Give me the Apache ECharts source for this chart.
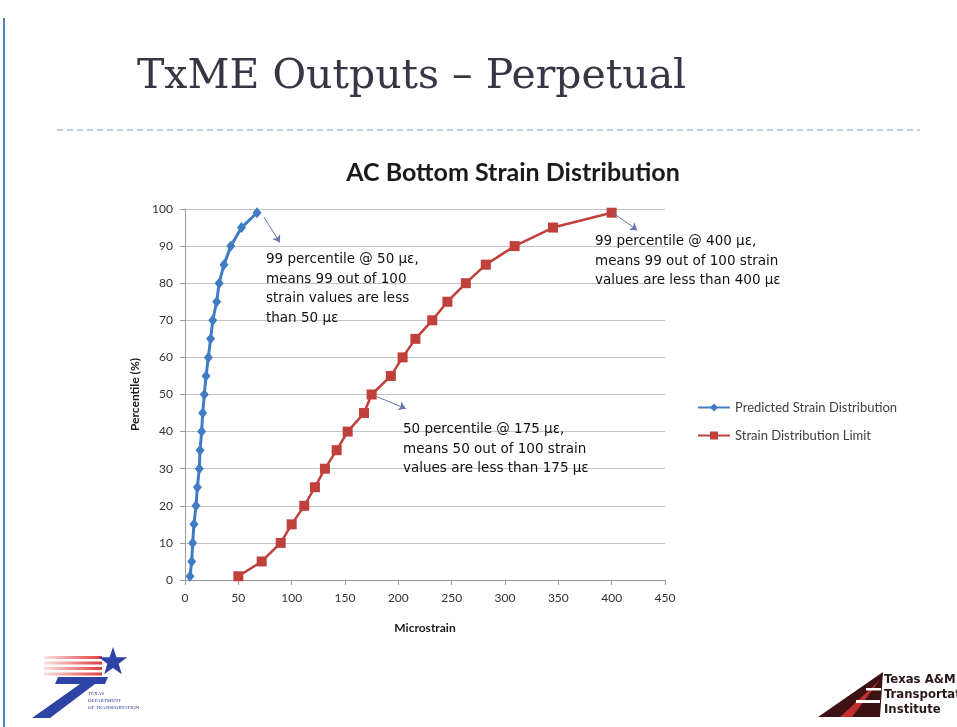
<!DOCTYPE html>
<html>
<head>
<meta charset="utf-8">
<script src="https://cdn.jsdelivr.net/npm/echarts@6/dist/echarts.min.js"></script>
<style>
  html, body { margin: 0; padding: 0; background: #ffffff; }
  #chart { width: 957px; height: 727px; }
</style>
</head>
<body>
<div id="chart"></div>
<script>
// Percentile levels shared by both distributions
const percentiles = [1, 5, 10, 15, 20, 25, 30, 35, 40, 45, 50, 55, 60, 65, 70, 75, 80, 85, 90, 95, 99];
// Microstrain at each percentile
const predictedStrain = [4.7, 6.3, 7.2, 8.4, 10.3, 11.6, 13.4, 14.1, 15.6, 16.6, 18.1, 19.7, 21.9, 24, 26, 29.7, 32, 36.5, 43, 53, 67.5];
const limitStrain = [50, 71.9, 89.7, 100, 111.8, 121.8, 131.2, 142.2, 152.5, 167.8, 175, 193, 204, 216, 231.8, 246, 263.3, 282, 309, 345, 400];

const seriesNames = ['Predicted Strain Distribution', 'Strain Distribution Limit'];
const xTicks = { min: 0, max: 450, interval: 50 };
const yTicks = { min: 0, max: 100, interval: 10 };

// Callout notes: [from point, arrow tip] in data units, plus text lines
const notes = [
  { from: [74, 97.8], to: [89, 91], lines: ['99 percentile @ 50 με,', 'means 99 out of 100', 'strain values are less', 'than 50 με'] },
  { from: [180, 49.4], to: [207, 46.2], lines: ['50 percentile @ 175 με,', 'means 50 out of 100 strain', 'values are less than 175 με'] },
  { from: [402, 98.8], to: [424, 94.3], lines: ['99 percentile @ 400 με,', 'means 99 out of 100 strain', 'values are less than 400 με'] }
];

const BLUE = '#3f7cc4';
const RED = '#c0403c';
const NOTE_COLOR = '#6676b0';

const chart = echarts.init(document.getElementById('chart'), null, { renderer: 'canvas' });

function pairs(xs) { return xs.map((x, i) => [x, percentiles[i]]); }

function arrowLine(n) {
  return [{ coord: n.from }, { coord: n.to }];
}

// Star points for the department logo
function starPoints(cx, cy, R, r) {
  const pts = [];
  for (let i = 0; i < 10; i++) {
    const a = -Math.PI / 2 + i * Math.PI / 5;
    const rad = i % 2 === 0 ? R : r;
    pts.push([cx + rad * Math.cos(a), cy + rad * Math.sin(a)]);
  }
  return pts;
}

const stripes = [656, 661.5, 667, 672.5].map(y => ({
  type: 'rect',
  shape: { x: 44, y: y, width: 58, height: 3 },
  style: {
    fill: new echarts.graphic.LinearGradient(0, 0, 1, 0, [
      { offset: 0, color: 'rgba(230,60,60,0.15)' },
      { offset: 1, color: '#e23a3a' }
    ])
  }
}));

const noteTexts = [
  { x: 266, y: 250, lines: notes[0].lines },
  { x: 403, y: 420, lines: notes[1].lines },
  { x: 595, y: 232, lines: notes[2].lines }
].map(t => ({
  type: 'text',
  left: t.x, top: t.y,
  style: {
    text: t.lines.join('\n'),
    font: '13.5px "DejaVu Sans"',
    lineHeight: 19.5,
    fill: '#111111'
  },
  z: 20
}));

const option = {
  animation: false,
  backgroundColor: '#ffffff',
  title: {
    text: 'AC Bottom Strain Distribution',
    left: 513, top: 160, padding: 0,
    textAlign: 'center',
    textStyle: { fontFamily: 'Lato', fontWeight: 'bold', fontSize: 25, color: '#1a1a1a' }
  },
  legend: {
    orient: 'vertical',
    left: 697, top: 401, padding: 0,
    itemWidth: 32, itemHeight: 10, itemGap: 15,
    textStyle: { fontFamily: 'Lato', fontSize: 13, color: '#404040' },
    data: seriesNames
  },
  grid: { left: 185, right: 292, top: 209, bottom: 147, containLabel: false },
  xAxis: {
    type: 'value',
    min: xTicks.min, max: xTicks.max, interval: xTicks.interval,
    name: 'Microstrain',
    nameLocation: 'middle', nameGap: 42,
    nameTextStyle: { fontFamily: 'Lato', fontWeight: 'bold', fontSize: 12, color: '#1a1a1a' },
    axisLine: { show: true, lineStyle: { color: '#9a9a9a', width: 1 } },
    axisTick: { show: true, length: 5, lineStyle: { color: '#9a9a9a' } },
    axisLabel: { fontFamily: 'Lato', fontSize: 12, color: '#333333', margin: 12 },
    splitLine: { show: false }
  },
  yAxis: {
    type: 'value',
    min: yTicks.min, max: yTicks.max, interval: yTicks.interval,
    name: 'Percentile (%)',
    nameLocation: 'middle', nameGap: 42,
    nameTextStyle: { fontFamily: 'Lato', fontWeight: 'bold', fontSize: 12, color: '#1a1a1a' },
    axisLine: { show: true, lineStyle: { color: '#9a9a9a', width: 1 } },
    axisTick: { show: true, length: 5, lineStyle: { color: '#9a9a9a' } },
    axisLabel: { fontFamily: 'Lato', fontSize: 12, color: '#333333', margin: 12 },
    splitLine: { show: true, lineStyle: { color: '#c4c4c4', width: 1 } }
  },
  series: [
    {
      name: seriesNames[0],
      type: 'line',
      data: pairs(predictedStrain),
      symbol: 'diamond', symbolSize: [9, 11],
      lineStyle: { color: BLUE, width: 3 },
      itemStyle: { color: BLUE },
      z: 5,
      markLine: {
        silent: true,
        symbol: ['none', 'arrow'], symbolSize: [7, 7],
        lineStyle: { color: NOTE_COLOR, width: 1, type: 'solid' },
        label: { show: false },
        data: [arrowLine(notes[0])]
      }
    },
    {
      name: seriesNames[1],
      type: 'line',
      data: pairs(limitStrain),
      symbol: 'rect', symbolSize: 10,
      lineStyle: { color: RED, width: 2.5 },
      itemStyle: { color: RED },
      z: 4,
      markLine: {
        silent: true,
        symbol: ['none', 'arrow'], symbolSize: [7, 7],
        lineStyle: { color: NOTE_COLOR, width: 1, type: 'solid' },
        label: { show: false },
        data: [arrowLine(notes[1]), arrowLine(notes[2])]
      }
    }
  ],
  graphic: [
    // slide frame accent
    { type: 'line', shape: { x1: 4, y1: 18, x2: 4, y2: 727 }, style: { stroke: '#4f81bd', lineWidth: 2 } },
    // slide heading
    {
      type: 'text', left: 137, top: 57,
      style: { text: 'TxME Outputs – Perpetual', font: '41px "DejaVu Serif"', fill: '#363645' }
    },
    { type: 'line', shape: { x1: 57, y1: 130, x2: 920, y2: 130 }, style: { stroke: '#a9bfd9', lineWidth: 1.5, lineDash: [6, 4] } },
    // department logo
    ...stripes,
    { type: 'polygon', shape: { points: starPoints(113, 662, 15, 6) }, style: { fill: '#2d44a6' } },
    { type: 'polygon', shape: { points: [[58, 677], [108, 677], [105, 684], [55, 684]] }, style: { fill: '#2d44a6' } },
    { type: 'polygon', shape: { points: [[80, 684], [95, 684], [50, 718], [32, 718]] }, style: { fill: '#2d44a6' } },
    {
      type: 'text', left: 88, top: 690,
      style: { text: 'TEXAS\nDEPARTMENT\nOF TRANSPORTATION', font: '5px "Liberation Serif"', lineHeight: 7, fill: '#2d3a8c', align: 'left' }
    },
    // institute logo
    { type: 'polygon', shape: { points: [[818, 717], [880, 717], [883, 672]] }, style: { fill: '#3b1111' } },
    { type: 'polygon', shape: { points: [[840, 717], [852, 717], [880, 680]] }, style: { fill: '#c03030' } },
    { type: 'rect', shape: { x: 856, y: 700, width: 24, height: 3 }, style: { fill: '#ffffff' } },
    { type: 'rect', shape: { x: 866, y: 688, width: 15, height: 2.5 }, style: { fill: '#ffffff' } },
    {
      type: 'text', left: 884, top: 672,
      style: { text: 'Texas A&M\nTransportation\nInstitute', font: 'bold 13px "DejaVu Sans Condensed", "Liberation Sans"', lineHeight: 15, fill: '#2a1717' }
    },
    ...noteTexts
  ]
};

chart.setOption(option);
</script>
</body>
</html>
